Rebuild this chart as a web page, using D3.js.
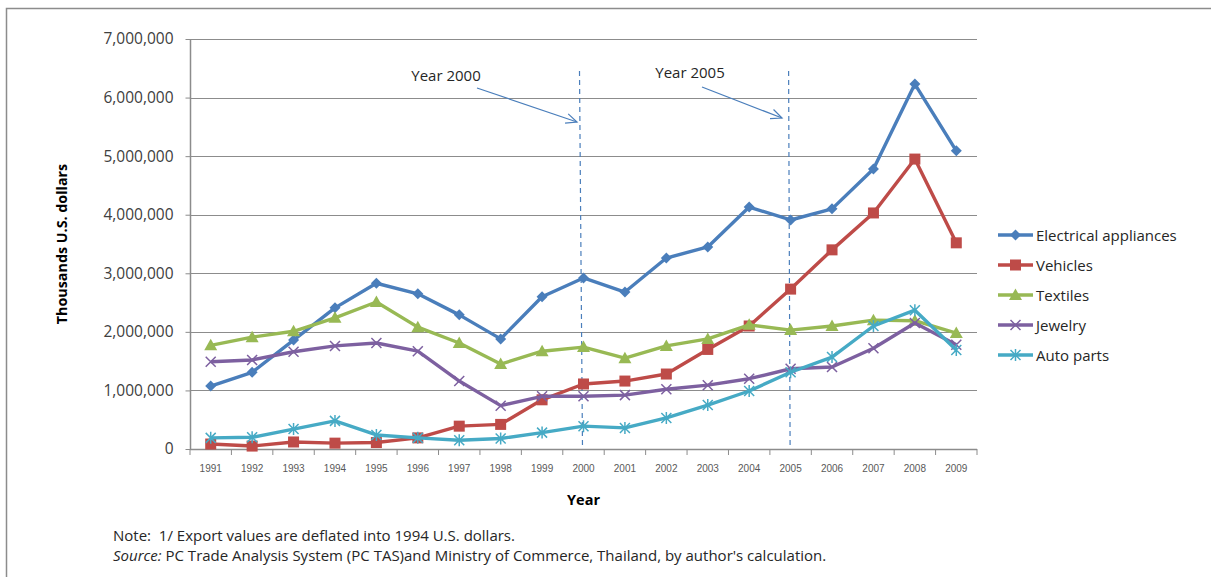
<!DOCTYPE html>
<html><head><meta charset="utf-8">
<script src="https://cdn.jsdelivr.net/npm/d3@7"></script>
<style>body{margin:0;background:#fff}svg{display:block}</style>
</head><body>
<svg id="c" width="1211" height="577"></svg>
<script>
const years = ["1991","1992","1993","1994","1995","1996","1997","1998","1999","2000","2001","2002","2003","2004","2005","2006","2007","2008","2009"];
const electrical = [1075000,1310000,1860000,2410000,2830000,2650000,2290000,1880000,2600000,2920000,2680000,3260000,3450000,4130000,3910000,4100000,4780000,6230000,5090000];
const vehicles   = [85000,50000,120000,100000,110000,190000,390000,420000,840000,1110000,1160000,1280000,1700000,2100000,2730000,3400000,4030000,4950000,3520000];
const textiles   = [1770000,1910000,2010000,2240000,2510000,2080000,1810000,1450000,1670000,1740000,1550000,1760000,1880000,2120000,2030000,2100000,2200000,2190000,1980000];
const jewelry    = [1490000,1520000,1660000,1760000,1810000,1670000,1160000,740000,900000,900000,920000,1020000,1090000,1200000,1370000,1400000,1720000,2150000,1780000];
const autoparts  = [190000,200000,340000,480000,240000,190000,150000,180000,280000,390000,360000,530000,750000,990000,1310000,1570000,2100000,2370000,1690000];
const seriesNames = ["Electrical appliances","Vehicles","Textiles","Jewelry","Auto parts"];
const yTicks = [0,1000000,2000000,3000000,4000000,5000000,6000000,7000000];
const markerYears = ["2000","2005"];
const markerLabels = ["Year 2000","Year 2005"];

const seriesValues = [electrical, vehicles, textiles, jewelry, autoparts];
const colors = ["#4A7EBB","#BE4B48","#98B954","#7D60A0","#46AAC5"];
const shapes = ["diamond","square","triangle","x","asterisk"];
const FONT = "'Open Sans',sans-serif";

const svg = d3.select("#c");
const L=190, R=977, T=39, B=449;
const x = d3.scaleBand().domain(years).range([L,R]);
const y = d3.scaleLinear().domain([0,7000000]).range([B,T]);
const cx = d => x(d)+x.bandwidth()/2;

// frame
svg.append("path").attr("d","M6.5,577 V8.5 H1211").attr("fill","none").attr("stroke","#8c8c8c").attr("stroke-width",1.5);

// gridlines
svg.append("g").selectAll("line").data(yTicks.slice(1)).join("line")
  .attr("x1",L).attr("x2",R).attr("y1",d=>Math.round(y(d))+0.5).attr("y2",d=>Math.round(y(d))+0.5)
  .attr("stroke","#8c8c8c").attr("stroke-width",1);

// y axis
const yAx = svg.append("g").attr("transform",`translate(${L+0.5},0)`)
  .call(d3.axisLeft(y).tickValues(yTicks).tickSize(5).tickPadding(12).tickFormat(d3.format(",")));
yAx.select(".domain").attr("stroke","#8c8c8c").attr("stroke-width",1.5).attr("d",`M0,${T}V${B}`);
yAx.selectAll(".tick line").attr("stroke","#8c8c8c");
yAx.selectAll("text").attr("font-family",FONT).attr("font-size",15.5).attr("fill","#404040");

// x axis
const xAx = svg.append("g").attr("transform",`translate(0,${B+0.5})`)
  .call(d3.axisBottom(x).tickSize(0).tickPadding(15));
xAx.select(".domain").remove();
svg.append("line").attr("x1",L).attr("x2",R).attr("y1",B+0.5).attr("y2",B+0.5).attr("stroke","#8c8c8c").attr("stroke-width",1.5);
const bounds = years.map(d=>x(d)).concat([R]);
svg.append("g").selectAll("line").data(bounds).join("line")
  .attr("x1",d=>d).attr("x2",d=>d).attr("y1",B).attr("y2",B+6).attr("stroke","#8c8c8c");
xAx.selectAll("text").attr("font-family","'Liberation Sans',Arial,sans-serif").attr("font-size",10).attr("fill","#595959");

// axis titles
svg.append("text").attr("transform",`translate(67,${(T+B)/2}) rotate(-90)`).attr("text-anchor","middle")
  .attr("font-family",FONT).attr("font-weight","bold").attr("font-size",14.3).attr("fill","#000").text("Thousands U.S. dollars");
svg.append("text").attr("x",cx("2000")).attr("y",505).attr("text-anchor","middle")
  .attr("font-family",FONT).attr("font-weight","bold").attr("font-size",14.5).attr("fill","#000").text("Year");

// vertical dashed markers and annotations
const annot = [
  {yr:markerYears[0], label:markerLabels[0], dx:-4, tx:446, ty:81, ax1:477, ay1:88, ax2:577, ay2:122},
  {yr:markerYears[1], label:markerLabels[1], dx:-2, tx:690, ty:78, ax1:702, ay1:87, ax2:782, ay2:118}
];
annot.forEach(a=>{
  const xx = cx(a.yr);
  svg.append("line").attr("x1",xx+a.dx).attr("x2",xx+a.dx/4).attr("y1",71).attr("y2",B)
    .attr("stroke","#4A7EBB").attr("stroke-width",1.2).attr("stroke-dasharray","5,4");
  svg.append("text").attr("x",a.tx).attr("y",a.ty).attr("text-anchor","middle")
    .attr("font-family",FONT).attr("font-size",15).attr("fill","#262626").text(a.label);
  svg.append("line").attr("x1",a.ax1).attr("y1",a.ay1).attr("x2",a.ax2).attr("y2",a.ay2).attr("stroke","#4A7EBB").attr("stroke-width",1.2);
  const ang = Math.atan2(a.ay2-a.ay1, a.ax2-a.ax1);
  const len = 12, spread = 0.42;
  const p1 = [a.ax2-len*Math.cos(ang-spread), a.ay2-len*Math.sin(ang-spread)];
  const p2 = [a.ax2-len*Math.cos(ang+spread), a.ay2-len*Math.sin(ang+spread)];
  svg.append("path").attr("d",`M${p1[0]},${p1[1]}L${a.ax2},${a.ay2}L${p2[0]},${p2[1]}`)
    .attr("fill","none").attr("stroke","#4A7EBB").attr("stroke-width",1.2);
});

// marker drawing
function marker(g, shape, color, px, py){
  if(shape==="diamond"){
    g.append("path").attr("d",`M${px},${py-5.5}L${px+5.5},${py}L${px},${py+5.5}L${px-5.5},${py}Z`).attr("fill",color);
  } else if(shape==="square"){
    g.append("rect").attr("x",px-5.5).attr("y",py-5.5).attr("width",11).attr("height",11).attr("fill",color);
  } else if(shape==="triangle"){
    g.append("path").attr("d",`M${px},${py-6.5}L${px+6.5},${py+5}L${px-6.5},${py+5}Z`).attr("fill",color);
  } else if(shape==="x"){
    g.append("path").attr("d",`M${px-5},${py-5}L${px+5},${py+5}M${px-5},${py+5}L${px+5},${py-5}`).attr("stroke",color).attr("stroke-width",1.5);
  } else {
    g.append("path").attr("d",`M${px-5},${py-5}L${px+5},${py+5}M${px-5},${py+5}L${px+5},${py-5}M${px},${py-6}L${px},${py+6}`).attr("stroke",color).attr("stroke-width",1.5);
  }
}

const line = d3.line().x((d,i)=>cx(years[i])).y(d=>y(d));
seriesValues.forEach((vals,si)=>{
  const g = svg.append("g");
  g.append("path").attr("d",line(vals)).attr("fill","none").attr("stroke",colors[si]).attr("stroke-width",3.4).attr("stroke-linejoin","round");
  vals.forEach((v,i)=>marker(g,shapes[si],colors[si],cx(years[i]),y(v)));
});

// legend
const legY = d3.scalePoint().domain(seriesNames).range([235,355]);
seriesNames.forEach((n,si)=>{
  const g = svg.append("g");
  const ly = legY(n);
  g.append("line").attr("x1",998).attr("x2",1033).attr("y1",ly).attr("y2",ly).attr("stroke",colors[si]).attr("stroke-width",3.4);
  marker(g,shapes[si],colors[si],1015.5,ly);
  g.append("text").attr("x",1036).attr("y",ly+5.5).attr("font-family",FONT).attr("font-size",15).attr("fill","#262626").text(n);
});

// notes
svg.append("text").attr("x",113).attr("y",541).attr("font-family",FONT).attr("font-size",15).attr("fill","#262626")
  .style("white-space","pre")
  .text("Note:  1/ Export values are deflated into 1994 U.S. dollars.");
const src = svg.append("text").attr("x",113).attr("y",561).attr("font-family",FONT).attr("font-size",15).attr("fill","#262626");
src.append("tspan").attr("font-style","italic").text("Source:");
src.append("tspan").text(" PC Trade Analysis System (PC TAS)and Ministry of Commerce, Thailand, by author's calculation.");
</script>
</body></html>
